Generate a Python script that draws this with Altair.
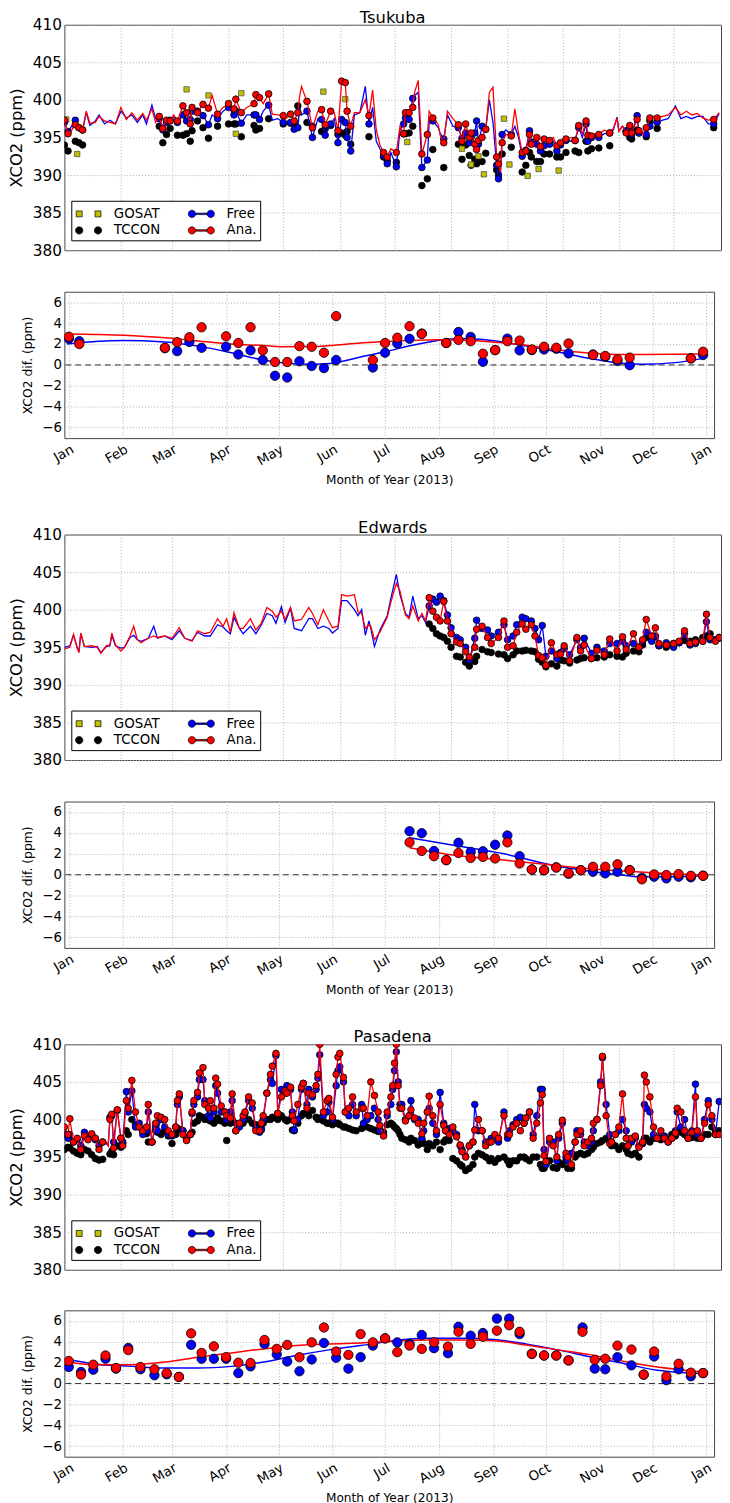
import json
import altair as alt
import pandas as pd

FONT = "DejaVu Sans"
N = None

MONTH_TICKS = [1, 32, 60, 91, 121, 152, 182, 213, 244, 274, 305, 335, 366]
MONTH_NAMES = ["Jan", "Feb", "Mar", "Apr", "May", "Jun", "Jul", "Aug", "Sep", "Oct", "Nov", "Dec", "Jan"]
TOP_Y_TICKS = [380, 385, 390, 395, 400, 405, 410]
DIF_Y_TICKS = [-6, -4, -2, 0, 2, 4, 6]
STATIONS = ["Tsukuba", "Edwards", "Pasadena"]
# legend fills column by column: GOSAT, TCCON | Free, Ana.
SERIES = ["GOSAT", "TCCON", "Free", "Ana."]
SERIES_FILL = ["#bfbf00", "#000000", "#0000ff", "#ff0000"]

# ---------------- Tsukuba ----------------
TSU_DAY = [1, 3, 5, 7, 9, 11, 13, 15, 18, 20,
           23, 26, 29, 32, 35, 38, 41, 44, 46, 49,
           51, 53, 55, 57, 59, 61, 63, 66, 68, 70,
           71, 74, 77, 80, 82, 85, 88, 91, 94, 95,
           98, 101, 105, 106, 108, 110, 113, 115, 118, 121,
           122, 125, 127, 129, 130, 131, 134, 137, 140, 142,
           144, 147, 149, 151, 153, 155, 156, 158, 160, 163,
           166, 168, 170, 172, 174, 176, 178, 180, 183, 185,
           187, 188, 190, 192, 193, 195, 197, 200, 201, 203,
           206, 207, 209, 211, 214, 217, 219, 221, 223, 224,
           226, 227, 228, 230, 232, 234, 236, 238, 239, 240,
           241, 243, 246, 248, 250, 252, 254, 256, 257, 260,
           262, 264, 267, 269, 271, 273, 276, 279, 281, 283,
           285, 287, 288, 290, 292, 294, 297, 300, 302, 304,
           305, 307, 309, 311, 312, 315, 316, 318, 320, 322,
           324, 326, 329, 332, 336, 339, 342, 345, 348, 351,
           354, 357, 360]
TSU_FREE = [397.0, 395.8, 396.5, 397.3, 396.3, 396.0, 398.3, 396.6, 397.2, 398.0,
            396.8, 397.3, 396.8, 398.5, 397.6, 398.0, 397.0, 398.0, 396.8, 399.3,
            397.5, 397.5, 396.0, 397.0, 397.3, 397.8, 397.0, 398.0, 397.2, 397.4,
            398.5, 398.5, 397.9, 396.7, 398.0, 397.5, 398.5, 399.0, 398.0, 398.5,
            396.9, 398.0, 398.0, 398.0, 397.4, 398.5, 399.3, 397.3, 397.5, 397.0,
            397.0, 397.0, 396.1, 396.3, 399.0, 398.0, 398.5, 395.0, 397.5, 397.4,
            395.3, 396.8, 397.5, 394.3, 397.4, 397.0, 395.0, 393.2, 398.0, 398.3,
            401.8, 396.8, 399.0, 394.5, 393.5, 392.6, 391.5, 393.0, 391.1, 396.0,
            396.8, 397.6, 397.4, 400.2, 400.6, 401.0, 391.0, 392.0, 397.0, 397.2,
            396.3, 395.6, 394.8, 398.0, 396.5, 396.3, 394.9, 395.6, 394.3, 395.0,
            395.6, 397.2, 394.1, 396.5, 396.1, 400.0, 397.0, 391.3, 389.5, 389.4,
            395.4, 396.0, 395.4, 396.5, 395.0, 392.5, 393.3, 395.9, 394.4, 394.1,
            393.2, 393.9, 394.1, 394.5, 393.2, 394.0, 394.6, 394.5, 394.6, 396.3,
            395.0, 396.8, 394.5, 395.0, 395.3, 395.0, 395.5, 395.6, 396.0, 397.7,
            395.9, 396.5, 395.9, 396.3, 395.4, 397.9, 395.6, 395.5, 395.4, 396.5,
            397.0, 397.0, 397.3, 397.5, 399.2, 397.5, 397.8, 397.5, 397.8, 397.8,
            396.8, 396.8, 398.2]
TSU_ANA = [397.3, 395.5, 396.0, 396.7, 396.3, 396.0, 398.5, 396.9, 397.0, 397.8,
           397.2, 397.0, 396.8, 399.0, 397.4, 398.3, 397.3, 398.2, 397.3, 398.8,
           397.0, 397.8, 396.2, 397.3, 397.2, 398.0, 397.2, 399.2, 398.3, 396.8,
           399.0, 398.3, 399.4, 398.9, 400.6, 398.1, 399.0, 399.5, 398.8, 400.1,
           398.3, 399.0, 399.5, 400.7, 400.3, 399.5, 400.8, 398.1, 398.0, 397.9,
           397.4, 398.1, 397.2, 398.3, 400.5, 401.8, 399.8, 396.3, 398.5, 398.7,
           396.7, 398.5, 398.3, 395.9, 402.5, 402.3, 398.5, 396.5, 398.3, 398.3,
           400.0, 397.9, 401.3, 396.0, 394.0, 393.0, 392.4, 393.5, 393.0, 396.5,
           395.5, 398.3, 398.3, 399.0, 401.0, 402.6, 392.8, 395.4, 398.5, 397.6,
           396.7, 395.3, 394.3, 398.5, 397.5, 396.7, 394.5, 396.8, 395.0, 395.6,
           394.1, 393.4, 394.6, 395.0, 396.1, 401.0, 401.7, 392.4, 391.5, 390.4,
           394.3, 395.4, 395.2, 398.8, 395.5, 393.0, 393.2, 395.4, 394.1, 395.0,
           393.8, 394.8, 394.6, 395.0, 393.9, 394.3, 394.8, 395.0, 394.6, 396.6,
           395.5, 397.2, 395.3, 395.2, 395.5, 395.4, 396.0, 395.6, 396.2, 397.6,
           395.8, 396.5, 395.6, 396.6, 395.6, 397.4, 395.9, 395.4, 396.3, 397.6,
           397.8, 397.6, 397.8, 398.0, 399.0, 398.0, 398.5, 398.0, 398.2, 397.6,
           397.3, 397.4, 398.3]
TSU_TCCON = [394.0, 393.2, N, 394.5, 394.3, 394.0, N, N, N, N,
             N, N, N, N, N, N, N, N, N, N,
             N, 396.5, 394.3, 395.4, 396.2, N, 395.3, 395.3, 395.5, 394.5,
             395.9, 397.2, 396.3, 394.9, N, 396.5, N, 396.8, 396.8, 396.8,
             395.1, N, 396.6, 396.0, 396.2, N, 397.5, N, N, 396.8,
             N, 396.9, 397.0, 399.2, N, N, 397.0, 396.5, N, 395.8,
             396.2, 396.6, N, 395.4, 395.6, 395.3, 395.8, 394.1, N, N,
             N, 395.1, N, N, N, 392.4, 391.9, N, 391.7, N,
             395.5, 395.5, 395.6, 396.5, N, N, 388.6, 389.5, N, 393.4,
             N, N, 391.0, N, N, 394.1, 392.1, 394.0, 392.6, 391.3,
             392.1, 391.5, 391.9, 391.8, 392.9, N, N, 390.7, 390.0, N,
             392.8, N, 393.7, N, N, 390.4, 391.3, 393.0, 392.4, 391.8,
             391.8, 392.8, 392.8, N, 392.4, 392.4, 393.0, N, 393.2, 393.0,
             N, 394.5, 393.2, 393.5, N, 393.6, N, 393.9, N, N,
             N, N, 395.8, 395.0, 394.8, 396.0, 395.6, N, 395.1, 397.2,
             N, 396.2, N, N, N, N, N, N, N, N,
             N, 396.3, N]
TSU_GOSAT_DAY = [2, 8, 68, 80, 95, 98, 143, 155, 189, 219, 224, 228, 231, 242, 245, 255, 261, 272]
TSU_GOSAT = [397.4, 392.8, 401.4, 400.6, 395.5, 400.9, 401.1, 400.1, 394.4, 393.5,
             391.4, 392.5, 390.1, 397.5, 391.4, 389.9, 390.8, 390.6]
TSU_DIF_DAY = [1, 7, 56, 63, 70, 77, 91, 98, 105, 112, 119, 126, 133, 140, 147, 154, 175, 182, 189,
               196, 203, 217, 224, 231, 238, 245, 252, 259, 266, 273, 280, 287, 301, 308, 315, 322, 357, 364]
TSU_DIF_FREE = [2.5, 2.27, 1.6, 1.32, 2.2, 1.64, 1.74, 1.0, 1.39, 0.47, -1.04, -1.2, 0.35, -0.1, -0.3,
                0.47, -0.25, 1.17, 2.05, 2.5, 3.0, 2.1, 3.15, 2.68, 0.3, 1.42, 2.52, 1.39, 1.42, 1.48,
                1.55, 1.1, 1.0, 0.79, 0.38, -0.03, 0.63, 0.95]
TSU_DIF_ANA = [2.7, 2.0, 1.64, 2.18, 2.65, 3.6, 2.74, 2.1, 3.6, 1.39, 0.28, 0.28, 1.8, 1.74, 1.17,
               4.67, 0.47, 2.1, 2.6, 3.7, 2.97, 2.1, 2.4, 2.27, 1.07, 1.42, 2.27, 2.33, 1.48, 1.74,
               1.64, 2.05, 0.95, 0.85, 0.54, 0.7, 0.63, 1.26]
TSU_FIT_DAY = [0, 18, 32, 56, 75, 94, 113, 122, 141, 150, 168, 182, 197, 213, 225, 243, 263, 281,
               300, 319, 329, 348, 364]
TSU_FIT_FREE = [2.0, 2.27, 2.33, 2.2, 1.8, 1.17, 0.44, 0.22, 0.06, 0.13, 0.76, 1.26, 1.86, 2.37,
                2.52, 2.33, 1.8, 1.23, 0.6, 0.13, 0.06, 0.22, 0.63]
TSU_FIT_ANA = [2.97, 2.92, 2.84, 2.6, 2.3, 2.0, 1.85, 1.75, 1.76, 1.85, 2.1, 2.25, 2.35, 2.4,
               2.38, 2.2, 1.88, 1.42, 1.12, 1.0, 1.0, 1.02, 1.05]

# ---------------- Edwards ----------------
ED_DAY = [1, 4, 6, 8, 9, 10, 12, 16, 19, 21,
          24, 26, 27, 29, 32, 34, 37, 39, 41, 43,
          47, 50, 52, 56, 60, 64, 67, 71, 74, 78,
          81, 85, 88, 90, 92, 94, 97, 99, 103, 106,
          109, 112, 115, 117, 120, 122, 125, 127, 131, 135,
          137, 140, 143, 146, 148, 151, 153, 156, 160, 162,
          164, 166, 168, 169, 171, 174, 178, 180, 183, 185,
          188, 190, 192, 195, 197, 199, 201, 203, 205, 207,
          209, 211, 213, 216, 218, 221, 223, 226, 227, 230,
          233, 235, 239, 242, 244, 247, 249, 252, 254, 257,
          259, 261, 263, 265, 268, 271, 273, 275, 278, 282,
          284, 286, 290, 293, 297, 300, 304, 307, 309, 313,
          316, 318, 320, 323, 325, 327, 331, 335, 338, 341,
          344, 347, 351, 353, 355, 358, 360]
ED_FREE = [395.0, 395.2, 396.6, 395.0, 394.5, 396.8, 395.1, 395.0, 395.1, 394.3,
           395.1, 395.2, 396.6, 395.2, 394.9, 395.0, 396.3, 396.6, 396.0, 395.8,
           396.2, 397.8, 396.2, 396.5, 396.0, 397.2, 396.2, 395.9, 397.0, 396.5,
           396.5, 398.0, 397.7, 397.2, 396.8, 399.0, 397.5, 396.8, 397.8, 396.8,
           398.0, 399.5, 399.2, 398.2, 400.4, 398.3, 400.2, 397.5, 397.2, 398.8,
           398.8, 397.5, 397.8, 397.5, 396.9, 397.5, 401.2, 401.2, 400.0, 399.2,
           400.0, 396.6, 398.5, 397.5, 395.1, 397.3, 399.2, 401.5, 404.7, 402.0,
           399.5, 399.0, 401.8, 398.8, 399.2, 398.3, 400.5, 401.4, 401.0, 401.8,
           401.2, 399.3, 397.6, 396.3, 396.0, 395.0, 393.3, 396.2, 398.6, 397.5,
           397.3, 396.5, 397.0, 398.0, 396.0, 396.5, 398.0, 399.0, 398.8, 398.5,
           397.5, 396.0, 397.9, 393.8, 394.5, 393.5, 394.3, 394.8, 394.0, 396.0,
           395.0, 396.2, 394.2, 395.0, 394.5, 395.5, 395.5, 395.8, 395.2, 395.5,
           395.0, 395.8, 397.0, 395.8, 396.5, 395.2, 395.6, 395.0, 395.6, 396.8,
           395.3, 395.5, 395.8, 398.4, 396.0, 396.0, 396.2]
ED_ANA = [394.8, 395.0, 396.7, 394.9, 394.3, 396.9, 395.1, 395.2, 395.0, 394.2,
          395.2, 395.3, 396.9, 395.3, 394.5, 395.0, 396.5, 397.8, 396.0, 395.6,
          396.2, 396.5, 396.3, 396.5, 396.2, 397.6, 396.2, 395.8, 397.2, 396.8,
          397.0, 398.8, 397.8, 398.8, 397.0, 399.6, 397.5, 397.5, 398.8, 397.3,
          398.2, 400.3, 399.8, 399.0, 399.8, 398.7, 400.3, 398.5, 398.7, 400.3,
          399.5, 398.0, 400.0, 398.5, 397.6, 397.8, 402.0, 401.8, 402.0, 399.7,
          399.5, 397.5, 398.0, 397.8, 396.0, 397.0, 399.0, 401.0, 403.5, 402.5,
          399.3, 398.8, 400.5, 398.5, 399.5, 398.5, 401.6, 399.8, 399.0, 398.5,
          401.1, 398.5, 396.8, 395.7, 395.5, 394.4, 393.7, 395.0, 397.4, 397.8,
          396.3, 395.5, 396.3, 398.5, 395.0, 395.2, 397.0, 398.1, 397.4, 398.0,
          396.5, 393.9, 393.6, 392.6, 395.6, 394.0, 394.1, 395.2, 393.2, 396.3,
          394.5, 395.3, 393.5, 394.6, 394.0, 396.1, 394.5, 396.4, 394.7, 396.8,
          395.0, 396.0, 398.7, 396.5, 397.6, 395.5, 395.3, 395.5, 395.8, 397.2,
          395.5, 395.7, 395.8, 399.4, 396.3, 395.8, 396.3]
ED_TCCON = [N] * 76 + [
    398.1, 397.5, 396.8, 396.5,
    396.3, 395.8, 395.0, 393.8, 393.7, 393.0, 392.5, 393.1, 393.8, 394.7,
    394.4, 394.3, 394.1, 394.0, 393.5, 394.0, 394.5, 394.5, 394.6, 394.5,
    394.4, 393.4, 393.0, 392.4, 392.8, 392.5, 393.3, 393.2, 392.9, 393.3,
    393.5, 393.6, 393.5, 393.6, 393.7, 394.0, 393.8, 393.7, 394.2, 394.5,
    394.4, 395.3, 396.3, 396.0, 396.4, 395.2, 395.0, 395.5, 395.6, 395.9,
    395.8, 396.0, 396.3, 396.5, 396.8, 396.0, 396.3]
ED_DIF_DAY = [196, 203, 210, 217, 224, 231, 238, 245, 252, 259, 266, 273, 280, 287, 294, 301,
              308, 315, 322, 329, 336, 343, 350, 357, 364]
ED_DIF_FREE = [4.16, 3.97, 2.27, 1.4, 3.06, 2.18, 2.24, 2.87, 3.75, 1.77, 0.5, 0.44, 0.7, 0.1,
               0.44, 0.28, 0.13, 0.28, 0.44, -0.3, -0.19, -0.35, -0.19, -0.25, -0.1]
ED_DIF_ANA = [3.09, 2.27, 1.77, 1.39, 2.08, 1.6, 1.7, 1.55, 3.09, 1.07, 0.5, 0.44, 0.69, 0.13,
              0.44, 0.76, 0.76, 1.0, 0.44, -0.44, 0.03, -0.03, 0.06, -0.1, -0.1]
ED_FIT_DAY = [196, 222, 250, 278, 297, 316, 328, 345, 364]
ED_FIT_FREE = [3.53, 2.8, 2.0, 0.9, 0.38, 0.0, -0.19, -0.2, -0.1]
ED_FIT_ANA = [2.59, 1.86, 1.4, 0.92, 0.6, 0.38, 0.25, 0.1, -0.03]

# ---------------- Pasadena ----------------
PAS_DAY = [1, 3, 4, 6, 8, 10, 12, 14, 16, 18,
           20, 22, 24, 25, 26, 27, 28, 30, 32, 33,
           35, 36, 38, 40, 42, 44, 46, 47, 49, 51,
           52, 54, 56, 58, 60, 62, 63, 64, 66, 68,
           70, 71, 72, 74, 75, 77, 78, 80, 81, 83,
           84, 85, 87, 89, 90, 92, 93, 95, 97, 99,
           100, 102, 104, 106, 108, 109, 110, 112, 114, 115,
           117, 118, 120, 122, 123, 125, 126, 127, 129, 131,
           132, 134, 135, 137, 139, 140, 141, 143, 145, 146,
           148, 150, 151, 152, 154, 155, 157, 159, 161, 164,
           165, 167, 169, 171, 173, 174, 176, 178, 180, 181,
           182, 183, 184, 185, 186, 188, 190, 191, 193, 195,
           197, 198, 200, 201, 203, 205, 207, 209, 210, 212,
           214, 216, 218, 219, 221, 223, 225, 226, 228, 230,
           232, 234, 235, 237, 239, 242, 244, 245, 247, 249,
           251, 253, 254, 256, 258, 260, 262, 263, 264, 265,
           267, 269, 271, 272, 274, 276, 277, 279, 281, 282,
           284, 286, 288, 290, 291, 293, 295, 296, 298, 300,
           301, 303, 305, 307, 309, 310, 312, 314, 316, 318,
           319, 320, 322, 324, 326, 328, 330, 332, 334, 336,
           337, 339, 341, 343, 345, 347, 348, 350, 352, 354,
           356, 358, 360]
PAS_FREE = [398.0, 397.5, 398.0, 397.0, 397.3, 396.5, 398.3, 397.5, 398.0, 397.3,
            396.5, 397.0, 396.8, 396.5, 400.3, 400.5, 397.0, 401.2, 397.5, 397.0,
            403.7, 401.0, 403.8, 399.0, 399.5, 398.0, 398.5, 401.0, 397.0, 399.0,
            398.5, 400.0, 399.0, 398.0, 397.8, 399.0, 402.0, 403.0, 398.5, 397.5,
            398.0, 400.8, 402.0, 403.0, 405.3, 405.3, 402.5, 400.5, 400.2, 401.0,
            404.5, 403.5, 401.0, 401.0, 400.0, 401.0, 402.5, 398.5, 399.0, 400.0,
            400.8, 402.5, 401.5, 398.8, 398.3, 398.6, 400.0, 403.5, 405.3, 404.8,
            408.5, 400.8, 404.0, 403.5, 404.5, 404.0, 401.0, 398.6, 400.0, 404.0,
            404.8, 402.0, 404.0, 403.0, 404.0, 405.5, 408.6, 400.5, 401.0, 402.3,
            400.0, 404.5, 406.5, 407.0, 405.0, 401.0, 400.5, 402.0, 400.5, 402.0,
            399.5, 400.0, 400.5, 401.5, 400.0, 398.5, 398.0, 400.5, 402.0, 404.0,
            406.5, 409.0, 405.0, 402.0, 402.0, 400.0, 400.5, 402.5, 400.0, 400.0,
            397.5, 398.5, 401.0, 401.5, 399.5, 398.0, 403.6, 399.5, 398.5, 398.8,
            398.5, 398.0, 396.5, 396.0, 395.1, 396.5, 397.0, 402.0, 398.5, 398.5,
            397.0, 397.0, 397.5, 397.5, 397.0, 401.0, 397.5, 398.5, 399.3, 400.0,
            400.3, 399.5, 400.2, 401.0, 398.0, 400.5, 404.0, 404.0, 396.0, 394.0,
            397.0, 397.0, 394.5, 397.5, 399.5, 395.0, 394.5, 395.5, 397.0, 398.5,
            398.0, 397.0, 396.5, 397.0, 398.5, 400.0, 405.0, 408.2, 402.0, 398.0,
            397.0, 398.0, 398.5, 400.0, 398.5, 396.5, 397.0, 397.5, 396.5, 396.8,
            402.0, 401.5, 401.0, 398.0, 397.5, 398.0, 397.8, 397.0, 397.5, 398.5,
            401.0, 399.0, 400.0, 397.5, 398.5, 404.7, 398.0, 397.5, 400.0, 402.5,
            400.0, 398.0, 402.4]
PAS_ANA = [399.0, 398.0, 400.1, 397.0, 397.5, 396.0, 397.8, 397.3, 398.1, 397.5,
           396.0, 397.0, 397.0, 396.5, 400.0, 400.7, 396.2, 401.3, 397.5, 396.5,
           402.5, 401.5, 405.2, 401.0, 399.0, 398.5, 399.0, 402.0, 397.0, 399.5,
           400.5, 400.3, 400.0, 398.5, 398.0, 399.0, 402.5, 403.4, 398.0, 397.2,
           398.0, 401.0, 402.5, 403.6, 406.2, 406.9, 402.0, 401.5, 402.5, 401.5,
           405.5, 404.7, 401.8, 401.0, 400.5, 400.2, 403.4, 398.5, 399.5, 400.5,
           401.0, 403.0, 402.2, 398.5, 398.5, 399.5, 400.5, 403.5, 406.0, 407.1,
           408.8, 400.8, 403.0, 403.8, 403.5, 404.3, 400.5, 399.8, 402.0, 404.3,
           404.8, 401.5, 403.5, 403.3, 404.5, 406.0, 410.0, 401.0, 402.5, 402.8,
           400.3, 406.0, 408.3, 408.8, 405.6, 401.0, 401.5, 403.0, 401.0, 401.5,
           401.5, 400.5, 405.0, 403.2, 401.0, 399.2, 397.8, 401.0, 403.0, 404.5,
           407.5, 410.0, 404.5, 401.5, 401.5, 399.8, 400.5, 401.3, 400.2, 399.5,
           398.1, 399.5, 401.0, 403.1, 400.5, 398.5, 402.0, 399.2, 398.5, 398.0,
           399.0, 397.7, 396.6, 395.7, 395.0, 396.5, 397.0, 398.6, 400.0, 398.5,
           396.5, 397.0, 397.0, 398.0, 397.5, 400.5, 398.0, 398.0, 399.0, 399.5,
           398.5, 399.5, 400.2, 401.0, 397.5, 399.5, 402.2, 403.3, 395.2, 394.4,
           397.5, 396.5, 395.0, 398.0, 399.9, 395.5, 395.0, 394.0, 397.0, 398.0,
           398.5, 396.5, 397.0, 397.5, 399.5, 400.0, 404.5, 408.4, 400.5, 396.8,
           397.0, 398.0, 399.0, 403.4, 397.5, 396.5, 397.5, 397.8, 396.3, 397.0,
           405.9, 405.0, 403.0, 399.0, 397.5, 398.5, 397.5, 397.0, 397.5, 398.2,
           401.5, 401.0, 398.5, 397.5, 398.3, 403.0, 398.5, 397.5, 399.5, 402.0,
           400.5, 398.0, 398.0]
PAS_TCCON = [396.0, 396.3, 396.2, 395.8, 395.5, 395.3, 396.0, 395.8, 395.3, 394.8,
             394.6, 394.7, N, N, 395.4, 395.8, 395.3, 396.5, 396.3, 396.8,
             398.5, 398.0, 400.0, 399.3, 399.0, 398.5, 398.1, 397.0, 397.0, 398.5,
             398.3, 398.0, 398.5, 397.8, 396.8, 398.0, 398.8, 398.7, 398.5, 397.3,
             398.0, 398.3, 399.5, 399.8, 400.5, 400.3, 400.0, 400.0, 399.8, 399.5,
             399.8, 400.2, 399.8, 399.5, 397.2, 399.5, 400.0, 399.5, 399.3, 399.5,
             400.0, 400.0, 399.5, 399.3, 399.0, 398.8, 399.5, 400.0, 400.0, 400.3,
             400.2, 400.0, 400.5, 400.0, 399.8, 400.0, 398.6, 398.5, 399.5, 400.5,
             400.8, 401.0, 400.5, 401.2, 400.3, 400.0, 400.2, 399.8, 399.5, 399.5,
             399.3, 399.5, 399.5, 399.3, 399.0, 399.0, 398.8, 398.6, 398.5, 398.8,
             399.2, 399.0, 398.8, 398.6, 398.4, 398.5, 398.3, 399.3, 399.5, 399.3,
             399.0, 398.8, 398.5, 398.0, 397.5, 397.3, 397.0, 397.5, 397.2, 396.6,
             397.3, 396.8, 396.0, 396.8, 396.5, 397.0, 396.0, 397.0, 397.3, 397.2,
             394.8, 394.5, 394.0, 393.8, 393.2, 393.5, 394.0, 395.0, 395.5, 395.3,
             395.0, 394.5, 394.8, 394.3, 394.8, 395.0, 394.5, 394.0, 394.5, 394.5,
             395.0, 395.0, 394.8, 394.5, 395.0, 395.0, 394.0, 393.5, 393.5, 394.0,
             394.5, 393.6, 393.5, 394.3, 394.0, 394.5, 393.5, 393.5, 395.0, 395.3,
             395.5, 395.3, 395.5, 396.0, 396.3, 396.8, 397.0, 397.2, 397.5, 397.0,
             396.5, 396.5, 396.0, 396.5, 396.0, 395.5, 395.3, 395.5, 395.0, 396.8,
             397.5, 397.5, 397.0, 397.5, 397.5, 397.3, 397.5, 397.3, 398.0, 397.8,
             398.5, 398.3, 398.0, 397.5, 397.6, 398.0, 397.5, 397.5, 398.0, 398.0,
             399.0, 398.5, 398.5]
PAS_DIF_DAY = [1, 8, 15, 22, 28, 35, 42, 50, 57, 64, 71, 77, 84, 91, 98, 105, 113, 120, 126, 133,
               140, 147, 154, 161, 168, 175, 182, 189, 196, 203, 210, 218, 224, 231, 238, 246, 253,
               259, 266, 273, 280, 287, 295, 302, 308, 315, 323, 330, 336, 343, 350, 357, 364]
PAS_DIF_FREE = [1.58, 1.1, 1.32, 2.37, 1.42, 3.4, 1.36, 0.79, 0.88, 0.63, 3.7, 2.37, 2.37, 2.37,
                1.0, 1.64, 3.79, 2.78, 2.11, 1.17, 2.3, 3.88, 2.46, 1.42, 2.52, 3.63, 4.32, 3.94,
                3.79, 4.64, 3.38, 2.9, 5.43, 4.57, 4.83, 6.21, 6.21, 4.73, 2.84, 2.68, 2.68, 2.21,
                5.36, 1.42, 1.36, 2.52, 1.74, 0.85, 2.59, 0.32, 1.36, 0.69, 1.0]
PAS_DIF_ANA = [2.15, 0.85, 1.8, 2.68, 1.48, 3.2, 1.58, 1.36, 1.0, 0.63, 4.8, 2.93, 3.56, 2.52,
               1.99, 1.96, 4.16, 3.31, 3.69, 2.52, 3.94, 5.36, 3.06, 2.74, 4.73, 3.94, 4.32, 3.0,
               3.63, 3.31, 3.94, 3.53, 4.95, 3.79, 4.48, 5.05, 5.58, 4.95, 2.84, 2.68, 2.68, 2.21,
               4.95, 2.27, 2.37, 3.63, 3.25, 0.85, 3.06, 0.69, 1.89, 1.04, 1.0]
PAS_FIT_DAY = [1, 14.5, 37, 56, 75, 94, 112.5, 131, 150, 168, 187, 206, 225, 244, 262.5, 281,
               300, 319, 338, 364]
PAS_FIT_FREE = [2.3, 1.9, 1.64, 1.48, 1.48, 1.64, 2.05, 2.68, 3.22, 3.63, 4.1, 4.32, 4.32, 4.2,
                3.79, 3.22, 2.52, 1.9, 1.26, 0.95]
PAS_FIT_ANA = [2.05, 1.8, 1.8, 2.05, 2.52, 2.93, 3.31, 3.63, 3.79, 3.88, 4.04, 4.16, 4.16, 4.1,
               3.69, 3.22, 2.74, 2.11, 1.58, 1.1]

# ---------------- layout constants ----------------
TOP_W, TOP_H = 664, 228
DIF_W, DIF_H = 657, 148
TOP_DOM = [1, 361]
DIF_DOM = [-1.55, 370.3]

# legend symbols (custom SVG paths, unit = sqrt(size)/2 px)
LEG_SIZE = 361
U = 9.5
C, R, S, T = 9.5 / U, 3.7 / U, 3.0 / U, 0.75 / U


def circ(cx, r):
    return (f"M{cx - r:.3f},0A{r:.3f},{r:.3f},0,1,0,{cx + r:.3f},0"
            f"A{r:.3f},{r:.3f},0,1,0,{cx - r:.3f},0Z")


def sq(cx, s):
    return (f"M{cx - s:.3f},{-s:.3f}L{cx + s:.3f},{-s:.3f}L{cx + s:.3f},{s:.3f}"
            f"L{cx - s:.3f},{s:.3f}Z")


def bar(x0, x1, t):
    return f"M{x0:.3f},{-t:.3f}L{x1:.3f},{-t:.3f}L{x1:.3f},{t:.3f}L{x0:.3f},{t:.3f}Z"


SH_GOSAT = sq(-C, S) + sq(C, S)
SH_TCCON = circ(-C, R) + circ(C, R)
SH_LINE = circ(-C, R) + bar(-C + R, C - R, T) + circ(C, R)
SERIES_SHAPE = [SH_GOSAT, SH_TCCON, SH_LINE, SH_LINE]

LABEL_EXPR = f"{json.dumps(MONTH_NAMES)}[indexof({json.dumps(MONTH_TICKS)}, datum.value)]"


def top_x():
    return alt.X("day:Q", scale=alt.Scale(domain=TOP_DOM, nice=False, zero=False),
                 axis=alt.Axis(values=MONTH_TICKS, labels=False, ticks=False, domain=False,
                               grid=True, title=None))


def top_y(field):
    return alt.Y(f"{field}:Q", scale=alt.Scale(domain=[380, 410], nice=False, zero=False),
                 axis=alt.Axis(values=TOP_Y_TICKS, title="XCO2 (ppm)", titleFontSize=16.5,
                               titleFontWeight="normal", titlePadding=7, labelFontSize=15.5,
                               labelPadding=3, ticks=False, domain=False, grid=True,
                               minExtent=33, maxExtent=33))


def dif_x():
    return alt.X("day:Q", scale=alt.Scale(domain=DIF_DOM, nice=False, zero=False),
                 axis=alt.Axis(values=MONTH_TICKS, labelExpr=LABEL_EXPR, labelAngle=-30,
                               labelAlign="right", labelBaseline="top", labelFontSize=13.5,
                               labelPadding=4, labelFlush=False, labelOverlap=False,
                               ticks=False, domain=False, grid=True,
                               title="Month of Year (2013)", titleFontSize=12.3,
                               titleFontWeight="normal", titlePadding=6))


def dif_y(field):
    return alt.Y(f"{field}:Q", scale=alt.Scale(domain=[-7, 7], nice=False, zero=False),
                 axis=alt.Axis(values=DIF_Y_TICKS, title="XCO2 dif. (ppm)", titleFontSize=12.5,
                               titleFontWeight="normal", titlePadding=7, labelFontSize=13.5,
                               labelPadding=3, ticks=False, domain=False, grid=True,
                               minExtent=23, maxExtent=23))


def make_legend():
    return alt.Legend(orient="none", legendX=7, legendY=178, columns=2, title=None,
                      symbolSize=LEG_SIZE, symbolStrokeColor="black", symbolStrokeWidth=0.7,
                      labelFont=FONT, labelFontSize=13.5, labelColor="black",
                      symbolOffset=4.5, labelOffset=15.5, columnPadding=25, rowPadding=0,
                      padding=3, strokeColor="black", fillColor="white", cornerRadius=0,
                      zindex=1)


def pts(df, fill, size):
    return alt.Chart(df).mark_point(filled=True, size=size, fill=fill, stroke="black",
                                    strokeWidth=0.8, opacity=1, clip=True)


def top_panel(name, day, free, ana, tccon, gday, gval):
    df = pd.DataFrame({"day": day, "free": free, "ana": ana, "tccon": tccon})
    obs = df[df["tccon"].notna()]
    layers = [pts(obs, "black", 45).encode(x=top_x(), y=top_y("tccon"))]
    if gday:
        gdf = pd.DataFrame({"day": gday, "gosat": gval})
        layers.append(alt.Chart(gdf).mark_square(filled=True, size=30, fill="#bfbf00",
                                                 stroke="#444", strokeWidth=0.7, opacity=1,
                                                 clip=True)
                      .encode(x=top_x(), y=top_y("gosat")))
    layers += [
        alt.Chart(df).mark_line(color="#0000ff", strokeWidth=1.3, clip=True)
        .encode(x=top_x(), y=top_y("free")),
        pts(obs, "#0000ff", 45).encode(x=top_x(), y=top_y("free")),
        alt.Chart(df).mark_line(color="#ff0000", strokeWidth=1.3, clip=True)
        .encode(x=top_x(), y=top_y("ana")),
        pts(obs, "#ff0000", 45).encode(x=top_x(), y=top_y("ana")),
    ]
    leg_df = pd.DataFrame({"series": SERIES, "day": [100] * 4, "v": [0.0] * 4})
    layers.append(
        alt.Chart(leg_df).mark_point(filled=True, size=LEG_SIZE, stroke="black",
                                     strokeWidth=0.7, opacity=1, clip=True)
        .encode(x=top_x(), y=top_y("v"),
                color=alt.Color("series:N", scale=alt.Scale(domain=SERIES, range=SERIES_FILL),
                                legend=make_legend()),
                shape=alt.Shape("series:N", scale=alt.Scale(domain=SERIES, range=SERIES_SHAPE),
                                legend=make_legend())))
    return alt.layer(*layers).properties(
        width=TOP_W, height=TOP_H,
        title=alt.TitleParams(name, fontSize=16.5, fontWeight="normal", font=FONT,
                              anchor="middle", frame="group", offset=-8.5, color="black"))


def dif_panel(dday, dfree, dana, fday, ffree, fana):
    ddf = pd.DataFrame({"day": dday, "free": dfree, "ana": dana})
    fdf = pd.DataFrame({"day": fday, "free": ffree, "ana": fana})
    zdf = pd.DataFrame({"z": [0.0]})
    layers = [
        alt.Chart(zdf).mark_rule(color="#333333", strokeDash=[6, 4], strokeWidth=1)
        .encode(y=dif_y("z")),
        alt.Chart(fdf).mark_line(color="#0000ff", strokeWidth=1.5, interpolate="monotone",
                                 clip=True).encode(x=dif_x(), y=dif_y("free")),
        alt.Chart(fdf).mark_line(color="#ff0000", strokeWidth=1.5, interpolate="monotone",
                                 clip=True).encode(x=dif_x(), y=dif_y("ana")),
        pts(ddf, "#0000ff", 90).encode(x=dif_x(), y=dif_y("free")),
        pts(ddf, "#ff0000", 90).encode(x=dif_x(), y=dif_y("ana")),
    ]
    return alt.layer(*layers).properties(width=DIF_W, height=DIF_H)


INNER_SPACING = 32
OUTER_SPACING = 32.5

blocks = [
    alt.vconcat(
        top_panel(STATIONS[0], TSU_DAY, TSU_FREE, TSU_ANA, TSU_TCCON, TSU_GOSAT_DAY, TSU_GOSAT),
        dif_panel(TSU_DIF_DAY, TSU_DIF_FREE, TSU_DIF_ANA, TSU_FIT_DAY, TSU_FIT_FREE, TSU_FIT_ANA),
        spacing=INNER_SPACING).resolve_scale(color="independent", shape="independent"),
    alt.vconcat(
        top_panel(STATIONS[1], ED_DAY, ED_FREE, ED_ANA, ED_TCCON, [], []),
        dif_panel(ED_DIF_DAY, ED_DIF_FREE, ED_DIF_ANA, ED_FIT_DAY, ED_FIT_FREE, ED_FIT_ANA),
        spacing=INNER_SPACING).resolve_scale(color="independent", shape="independent"),
    alt.vconcat(
        top_panel(STATIONS[2], PAS_DAY, PAS_FREE, PAS_ANA, PAS_TCCON, [], []),
        dif_panel(PAS_DIF_DAY, PAS_DIF_FREE, PAS_DIF_ANA, PAS_FIT_DAY, PAS_FIT_FREE, PAS_FIT_ANA),
        spacing=INNER_SPACING - 1).resolve_scale(color="independent", shape="independent"),
]

chart = (alt.vconcat(*blocks, spacing=OUTER_SPACING)
         .resolve_scale(color="independent", shape="independent")
         .properties(padding={"left": 0, "top": -7.5, "right": 0, "bottom": 0})
         .configure_view(stroke="#444444", strokeWidth=1)
         .configure_axis(labelFont=FONT, titleFont=FONT, labelColor="black", titleColor="black",
                         gridColor="#b0b0b0", gridDash=[1, 2], gridWidth=1)
         .configure_legend(labelFont=FONT)
         .configure_title(font=FONT))

chart.save("out.html", embed_options={"renderer": "svg", "actions": False})
